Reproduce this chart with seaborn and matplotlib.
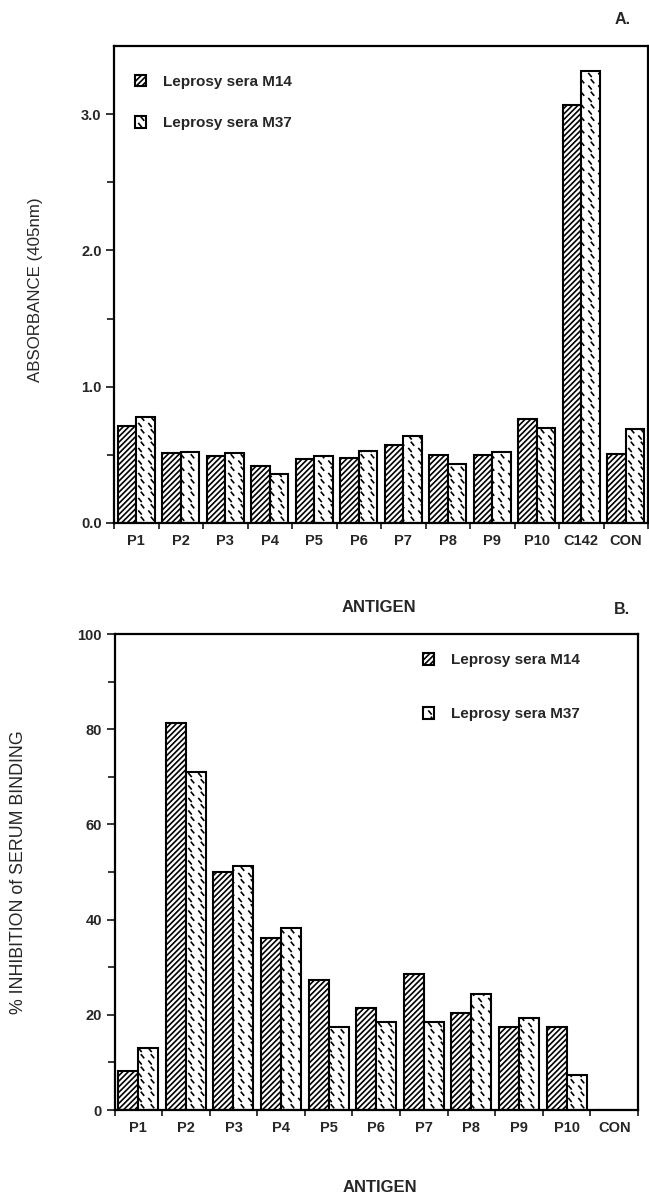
import numpy as np
import pandas as pd
import matplotlib
matplotlib.use("Agg")
import matplotlib.pyplot as plt
import matplotlib.hatch as mhatch
from matplotlib.path import Path
from matplotlib.patches import Patch
from matplotlib.ticker import FixedLocator
import seaborn as sns

# ---------------- data ----------------
antigens_a = ["P1", "P2", "P3", "P4", "P5", "P6", "P7", "P8", "P9", "P10", "C142", "CON"]
m14_a = [0.71, 0.51, 0.49, 0.42, 0.47, 0.48, 0.57, 0.50, 0.50, 0.765, 3.07, 0.505]
m37_a = [0.78, 0.52, 0.51, 0.36, 0.49, 0.53, 0.64, 0.43, 0.52, 0.70, 3.32, 0.69]

antigens_b = ["P1", "P2", "P3", "P4", "P5", "P6", "P7", "P8", "P9", "P10", "CON"]
m14_b = [8.1, 81.3, 50.1, 36.2, 27.4, 21.4, 28.5, 20.3, 17.4, 17.4, 0.0]
m37_b = [13.1, 71.1, 51.2, 38.3, 17.4, 18.5, 18.5, 24.3, 19.4, 7.4, 0.0]

series = ["Leprosy sera M14", "Leprosy sera M37"]


# ---------------- custom dash hatch (replaces '*') ----------------
class DashHatch(mhatch.HatchPatternBase):
    half = 0.012  # half extent of a dash, in hatch units

    def __init__(self, hatch, density):
        c = hatch.count('*')
        self.pos = np.empty((0, 2))
        if c:
            nx, ny = 10 * c, 16 * c
            pts = []
            for r in range(ny + 1):
                y = r / ny
                shift = 0.0 if r % 2 == 0 else 0.25
                for k in range(-1, nx + 1):
                    x = (k + shift) / nx
                    if -0.05 <= x <= 1.05:
                        pts.append((x, y))
            self.pos = np.array(pts)
        self.num_vertices = len(self.pos) * 2

    def set_vertices_and_codes(self, vertices, codes):
        a = self.half
        vertices[0::2] = self.pos + [-a, a * 1.2]
        vertices[1::2] = self.pos + [a, -a * 1.2]
        codes[0::2] = Path.MOVETO
        codes[1::2] = Path.LINETO


mhatch._hatch_types = [DashHatch if t is mhatch.Stars else t for t in mhatch._hatch_types]

HATCH_M14 = "//////"
HATCH_M37 = "*"

sns.set_style("ticks")
plt.rcParams["font.family"] = ["Liberation Sans", "DejaVu Sans"]
plt.rcParams["hatch.linewidth"] = 1.2
plt.rcParams["hatch.color"] = "black"

W, H = 649, 1195
fig = plt.figure(figsize=(W / 100, H / 100), dpi=100)


def make_df(cats, a, b):
    return pd.DataFrame({
        "antigen": cats * 2,
        "value": list(a) + list(b),
        "serum": [series[0]] * len(cats) + [series[1]] * len(cats),
    })


def draw(ax, cats, a, b):
    df = make_df(cats, a, b)
    sns.barplot(data=df, x="antigen", y="value", hue="serum", order=cats,
                hue_order=series, palette=["white", "white"], edgecolor="black",
                linewidth=1.5, width=0.84, saturation=1, legend=False, ax=ax)
    for cont, h in zip(ax.containers, [HATCH_M14, HATCH_M37]):
        for bar in cont:
            bar.set_hatch(h)
    n = len(cats)
    ax.set_xlim(-0.5, n - 0.5)
    ax.set_xticks(range(n))
    ax.set_xticklabels(cats, fontsize=10.5, fontweight="bold")
    ax.xaxis.set_minor_locator(FixedLocator(np.arange(-0.5, n, 1.0)))
    ax.tick_params(axis="x", which="major", length=0, pad=8)
    ax.tick_params(axis="x", which="minor", length=4, width=1.3, direction="out")
    ax.tick_params(axis="y", which="major", length=6, width=1.3, direction="out", pad=3)
    ax.tick_params(axis="y", which="minor", length=5, width=1.3, direction="out")
    for s in ax.spines.values():
        s.set_visible(True)
        s.set_linewidth(1.6)
        s.set_color("black")
    ax.set_xlabel("")
    ax.set_ylabel("")


legend_kw = dict(frameon=False, borderpad=0, borderaxespad=0, handlelength=0.72,
                 handleheight=0.8, handletextpad=1.1, prop={"size": 11, "weight": "bold"})

# ---------------- panel A ----------------
ax1 = fig.add_axes([114 / W, 1 - 523 / H, 534 / W, 477 / H])
draw(ax1, antigens_a, m14_a, m37_a)
ax1.set_ylim(0, 3.5)
ax1.set_yticks([0, 1, 2, 3])
ax1.set_yticklabels(["0.0", "1.0", "2.0", "3.0"], fontweight="bold", fontsize=10.5)
ax1.yaxis.set_minor_locator(FixedLocator([0.5, 1.5, 2.5]))

handles = [Patch(facecolor="white", edgecolor="black", hatch=HATCH_M14, linewidth=1.5),
           Patch(facecolor="white", edgecolor="black", hatch=HATCH_M37, linewidth=1.5)]
ax1.legend(handles, series, loc="upper left", bbox_to_anchor=(0.039, 0.94),
           labelspacing=1.8, **legend_kw)

# ---------------- panel B ----------------
ax2 = fig.add_axes([114.5 / W, 1 - 1110 / H, 523.5 / W, 476 / H])
draw(ax2, antigens_b, m14_b, m37_b)
ax2.set_ylim(0, 100)
ax2.set_yticks([0, 20, 40, 60, 80, 100])
ax2.set_yticklabels(["0", "20", "40", "60", "80", "100"], fontweight="bold", fontsize=10.5)
ax2.yaxis.set_minor_locator(FixedLocator([10, 30, 50, 70, 90]))
ax2.legend(handles, series, loc="upper left", bbox_to_anchor=(0.589, 0.96),
           labelspacing=2.6, **legend_kw)

# ---------------- labels ----------------
fig.text(36 / W, 1 - 290 / H, "ABSORBANCE (405nm)", rotation=90, ha="center",
         va="center", fontsize=12.2)
fig.text(19 / W, 1 - 872 / H, "% INHIBITION of SERUM BINDING", rotation=90,
         ha="center", va="center", fontsize=12.8)
fig.text(379 / W, 1 - 607 / H, "ANTIGEN", ha="center", va="center", fontsize=12,
         fontweight="bold")
fig.text(380 / W, 1 - 1188 / H, "ANTIGEN", ha="center", va="center", fontsize=12,
         fontweight="bold")
fig.text(623 / W, 1 - 20 / H, "A.", ha="center", va="center", fontsize=11.5,
         fontweight="bold")
fig.text(622 / W, 1 - 609 / H, "B.", ha="center", va="center", fontsize=11.5,
         fontweight="bold")

fig.savefig("out.png", dpi=100, facecolor="white")
